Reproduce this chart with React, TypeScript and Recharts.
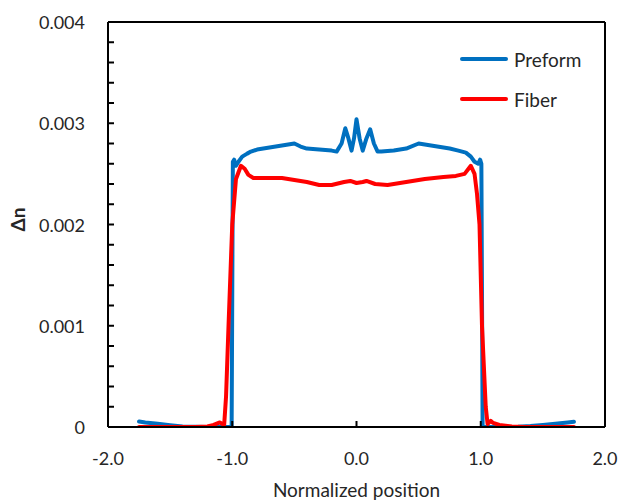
import React from "react";
import { LineChart, Line, XAxis, YAxis, Legend, ReferenceLine } from "recharts";

// ---- data (x: normalized position, y: Δn in units of 1e-3) ----
const preformX = [
  -1.75, -1.7, -1.6, -1.5, -1.4, -1.3, -1.2, -1.1, -1.03, -1.005, -0.995, -0.985, -0.97, -0.95, -0.92,
  -0.88, -0.85, -0.8, -0.7, -0.6, -0.5, -0.45, -0.4, -0.3, -0.2, -0.16, -0.12, -0.09, -0.065, -0.04,
  -0.02, 0.0, 0.025, 0.05, 0.08, 0.11, 0.14, 0.17, 0.2, 0.3, 0.4, 0.5, 0.55, 0.65, 0.75, 0.82, 0.88,
  0.92, 0.95, 0.98, 0.995, 1.005, 1.015, 1.05, 1.2, 1.3, 1.4, 1.5, 1.6, 1.7, 1.75,
];
const preformY = [
  0.055, 0.045, 0.032, 0.018, 0.006, 0.002, 0.0, 0.0, 0.0, 0.0, 2.62, 2.64, 2.58, 2.62, 2.67,
  2.7, 2.72, 2.74, 2.76, 2.78, 2.8, 2.77, 2.75, 2.74, 2.73, 2.72, 2.8, 2.95, 2.85, 2.73,
  2.85, 3.04, 2.85, 2.73, 2.85, 2.94, 2.8, 2.72, 2.72, 2.73, 2.75, 2.8, 2.79, 2.77, 2.75, 2.73, 2.71,
  2.67, 2.62, 2.6, 2.64, 2.6, 0.0, 0.0, 0.0, 0.003, 0.01, 0.02, 0.032, 0.045, 0.052,
];
const fiberX = [
  -1.75, -1.5, -1.3, -1.2, -1.15, -1.1, -1.08, -1.065, -1.05, -1.03, -1.0, -0.97, -0.93, -0.9, -0.87,
  -0.83, -0.7, -0.6, -0.5, -0.4, -0.3, -0.2, -0.1, -0.05, 0.0, 0.05, 0.08, 0.15, 0.25, 0.35, 0.45,
  0.55, 0.7, 0.8, 0.87, 0.92, 0.95, 0.97, 0.99, 1.01, 1.04, 1.055, 1.08, 1.1, 1.15, 1.25, 1.35, 1.75,
];
const fiberY = [
  0.0, 0.0, 0.0, 0.005, 0.02, 0.045, 0.03, 0.02, 0.3, 1.0, 2.0, 2.45, 2.58, 2.55, 2.49,
  2.46, 2.46, 2.46, 2.44, 2.42, 2.39, 2.39, 2.42, 2.43, 2.41, 2.42, 2.43, 2.4, 2.39, 2.41, 2.43,
  2.45, 2.47, 2.48, 2.5, 2.58, 2.5, 2.3, 2.0, 1.0, 0.2, 0.03, 0.06, 0.04, 0.02, 0.005, 0.0, 0.0,
];

const xTicks = [-2, -1, 0, 1, 2];
const yTicks = [
  0, 0.0002, 0.0004, 0.0006, 0.0008, 0.001, 0.0012, 0.0014, 0.0016, 0.0018, 0.002, 0.0022, 0.0024,
  0.0026, 0.0028, 0.003, 0.0032, 0.0034, 0.0036, 0.0038, 0.004,
];
const xDomain = [-2, 2];
const yDomain = [0, 0.004];
const seriesNames = ["Preform", "Fiber"];
const seriesColors = ["#0070C0", "#FF0000"];

const preformData = preformX.map((x, i) => ({ x, y: preformY[i] / 1000 }));
const fiberData = fiberX.map((x, i) => ({ x, y: fiberY[i] / 1000 }));

const FONT = "Lato, 'Open Sans', sans-serif";
const TEXT = "#262626";

const YTick = (props: any) => {
  const { x, y, payload } = props;
  const v = payload.value as number;
  const idx = Math.round(v / 0.0002);
  const major = idx % 5 === 0;
  const label = v === 0 ? "0" : v.toFixed(3);
  return (
    <g>
      <line x1={x} x2={x + 6} y1={y} y2={y} stroke="#000" strokeWidth={2} />
      {major && (
        <text x={x - 23} y={y} textAnchor="end" dominantBaseline="central" fontFamily={FONT} fontSize={18} fill={TEXT}>
          {label}
        </text>
      )}
    </g>
  );
};

const XTick = (props: any) => {
  const { x, y, payload } = props;
  const v = payload.value as number;
  return (
    <g>
      <line x1={x} x2={x} y1={y} y2={y - 6} stroke="#000" strokeWidth={2} />
      <text x={x} y={y + 31} textAnchor="middle" dominantBaseline="central" fontFamily={FONT} fontSize={18} fill={TEXT}>
        {v.toFixed(1)}
      </text>
    </g>
  );
};

const XTitle = (props: any) => {
  const vb = props.viewBox;
  return (
    <text x={vb.x + vb.width / 2} y={vb.y + 62} textAnchor="middle" dominantBaseline="central" fontFamily={FONT} fontSize={19} fill={TEXT}>
      Normalized position
    </text>
  );
};

const YTitle = (props: any) => {
  const vb = props.viewBox;
  const cx = 17.5;
  const cy = vb.y + vb.height / 2 - 5;
  return (
    <text x={cx} y={cy} transform={`rotate(-90 ${cx} ${cy})`} textAnchor="middle" dominantBaseline="central" fontFamily={FONT} fontSize={19} fontWeight={700} fill={TEXT}>
      Δn
    </text>
  );
};

const LegendContent = () => (
  <div style={{ fontFamily: FONT, fontSize: 19, color: TEXT }}>
    {seriesNames.map((n, i) => (
      <div key={n} style={{ display: "flex", alignItems: "center", height: 40 }}>
        <div style={{ width: 48, height: 4, background: seriesColors[i], borderRadius: 2, marginRight: 6 }} />
        <span>{n}</span>
      </div>
    ))}
  </div>
);

export default function App() {
  return (
    <div style={{ position: "fixed", left: 0, top: 0, width: 620, height: 500, background: "#fff" }}>
      <LineChart width={620} height={500} margin={{ top: 22, right: 15, left: 0, bottom: 0 }}>
        <XAxis
          type="number"
          dataKey="x"
          domain={xDomain}
          ticks={xTicks}
          interval={0}
          allowDataOverflow
          height={73}
          tickSize={0}
          tickMargin={0}
          axisLine={{ stroke: "#000", strokeWidth: 2 }}
          tickLine={false}
          tick={<XTick />}
          label={<XTitle />}
        />
        <YAxis
          type="number"
          dataKey="y"
          domain={yDomain}
          ticks={yTicks}
          interval={0}
          allowDataOverflow
          width={108}
          tickSize={0}
          tickMargin={0}
          axisLine={{ stroke: "#000", strokeWidth: 2 }}
          tickLine={false}
          tick={<YTick />}
          label={<YTitle />}
        />
        <ReferenceLine x={xDomain[1]} stroke="#000" strokeWidth={2} ifOverflow="visible" />
        <ReferenceLine y={yDomain[1]} stroke="#000" strokeWidth={2} ifOverflow="visible" />
        <Legend
          layout="vertical"
          align="center"
          verticalAlign="middle"
          content={<LegendContent />}
          wrapperStyle={{ position: "absolute", top: 39, left: 460, width: 150 }}
        />
        <Line
          data={preformData}
          dataKey="y"
          name={seriesNames[0]}
          stroke={seriesColors[0]}
          strokeWidth={4}
          strokeLinecap="round"
          strokeLinejoin="round"
          dot={false}
          type="linear"
          isAnimationActive={false}
        />
        <Line
          data={fiberData}
          dataKey="y"
          name={seriesNames[1]}
          stroke={seriesColors[1]}
          strokeWidth={4}
          strokeLinecap="round"
          strokeLinejoin="round"
          dot={false}
          type="linear"
          isAnimationActive={false}
        />
      </LineChart>
    </div>
  );
}
